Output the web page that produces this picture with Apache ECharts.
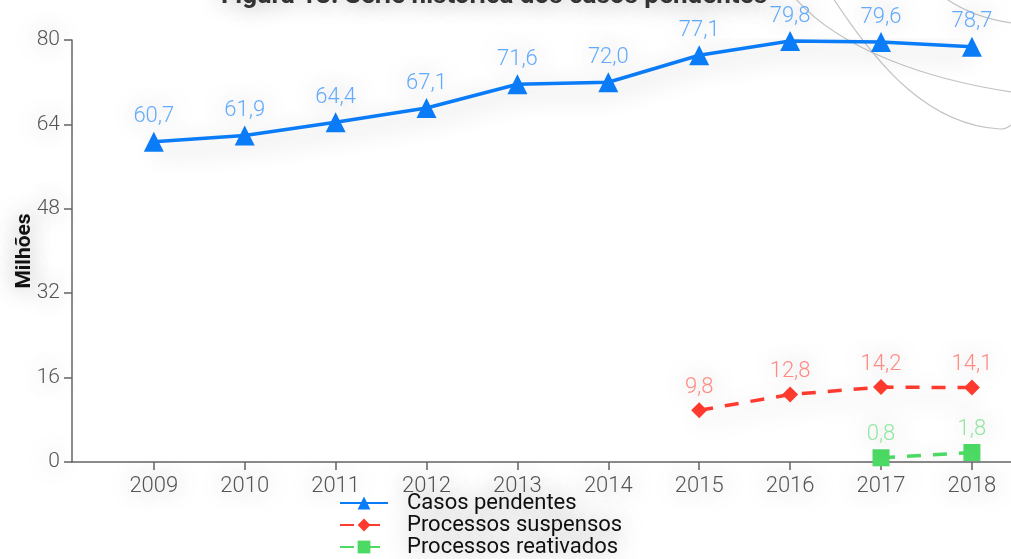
<!DOCTYPE html>
<html>
<head>
<meta charset="utf-8">
<script src="https://cdn.jsdelivr.net/npm/echarts@6/dist/echarts.min.js"></script>
<style>
  html, body { margin: 0; padding: 0; background: #fff; }
  #chart { width: 1011px; height: 559px; }
</style>
</head>
<body>
<div id="chart"></div>
<script>
// Série histórica dos casos pendentes (em milhões)
const years = [2009, 2010, 2011, 2012, 2013, 2014, 2015, 2016, 2017, 2018];
const casosPendentes = [60.7, 61.9, 64.4, 67.1, 71.6, 72.0, 77.1, 79.8, 79.6, 78.7];
const suspensosYears = [2015, 2016, 2017, 2018];
const processosSuspensos = [9.8, 12.8, 14.2, 14.1];
const reativadosYears = [2017, 2018];
const processosReativados = [0.8, 1.8];
const yTicks = [0, 16, 32, 48, 64, 80];
const yAxisTitle = 'Milhões';

const FONT = 'Roboto, "Helvetica Neue", Arial, sans-serif';
const haze = { textShadowColor: 'rgba(0,0,0,0.4)', textShadowBlur: 24 };
const lineHaze = { shadowColor: 'rgba(0,0,0,0.32)', shadowBlur: 26, shadowOffsetY: 8 };
const fmt = v => v.toFixed(1).replace('.', ',');
const pairs = (xs, ys) => xs.map((x, i) => [x, ys[i]]);

function labelStyle(color) {
  return Object.assign({
    show: true, position: 'top', distance: 4,
    color: color, fontFamily: FONT, fontWeight: 300, fontSize: 22,
    formatter: p => fmt(p.value[1])
  }, haze);
}

const chart = echarts.init(document.getElementById('chart'), null, { renderer: 'canvas' });
chart.setOption({
  animation: false,
  backgroundColor: '#fff',
  title: {
    text: 'Figura 13: Série histórica dos casos pendentes',
    left: 489, textAlign: 'center', top: -22,
    textStyle: Object.assign({ color: '#333', fontFamily: FONT, fontWeight: 'bold', fontSize: 26 }, haze)
  },
  grid: { left: 72, right: 0, top: 40, bottom: 97, containLabel: false },
  legend: {
    orient: 'vertical', left: 339, top: 492, height: 90, padding: 0, itemGap: 0,
    itemWidth: 48, itemHeight: 16,
    textStyle: Object.assign({ color: '#111', fontFamily: FONT, fontSize: 22, lineHeight: 18, padding: [0, 0, 0, 14] }, haze),
    data: ['Casos pendentes', 'Processos suspensos', 'Processos reativados']
  },
  xAxis: {
    type: 'value', min: 2008.1, max: 2018.43,
    splitLine: { show: false },
    axisLine: { show: true, lineStyle: { color: '#666', width: 1.5 } },
    axisTick: { show: true, length: 8, inside: false, customValues: years, lineStyle: { color: '#666', width: 1.5 } },
    axisLabel: Object.assign({
      customValues: years, color: '#555', fontFamily: FONT, fontWeight: 300, fontSize: 22, margin: 13,
      formatter: v => String(v)
    }, haze)
  },
  yAxis: {
    type: 'value', min: 0, max: 80, interval: 16,
    splitLine: { show: false },
    axisLine: { show: true, lineStyle: { color: '#666', width: 1.5 } },
    axisTick: { show: true, length: 8, lineStyle: { color: '#666', width: 1.5 } },
    axisLabel: Object.assign({
      color: '#555', fontFamily: FONT, fontWeight: 300, fontSize: 21, margin: 12,
      customValues: yTicks
    }, haze)
  },
  series: [
    {
      name: 'Casos pendentes', type: 'line',
      data: pairs(years, casosPendentes),
      symbol: 'triangle', symbolSize: 20,
      itemStyle: { color: '#0a7cf7' },
      lineStyle: Object.assign({ width: 3.5, color: '#0a7cf7' }, lineHaze),
      label: labelStyle('#62aafb')
    },
    {
      name: 'Processos suspensos', type: 'line',
      data: pairs(suspensosYears, processosSuspensos),
      symbol: 'diamond', symbolSize: 16,
      itemStyle: { color: '#ff3b30' },
      lineStyle: Object.assign({ width: 3.5, color: '#ff3b30', type: [14, 12] }, lineHaze),
      label: labelStyle('#ff8a84')
    },
    {
      name: 'Processos reativados', type: 'line',
      data: pairs(reativadosYears, processosReativados),
      symbol: 'rect', symbolSize: 17,
      itemStyle: { color: '#4cd964' },
      lineStyle: Object.assign({ width: 3.5, color: '#4cd964', type: [14, 12] }, lineHaze),
      label: labelStyle('#93e69f')
    }
  ],
  graphic: [
    // y-axis title, set close to the tick labels
    { type: 'text', silent: true, x: 25, y: 251, rotation: Math.PI / 2,
      style: Object.assign({ text: yAxisTitle, fill: '#111', font: 'bold 21px ' + FONT,
        align: 'center', verticalAlign: 'middle' }, haze) },
    { type: 'bezierCurve', silent: true, z: -1,
      shape: { x1: 833, y1: -2, cpx1: 880, cpy1: 70, cpx2: 930, cpy2: 125, x2: 1000, y2: 129 },
      style: { stroke: '#c4c4c4', lineWidth: 1.2, fill: null } },
    { type: 'bezierCurve', silent: true, z: -1,
      shape: { x1: 1000, y1: 129, cpx1: 1006, cpy1: 129, cpx2: 1009, cpy2: 127, x2: 1012, y2: 124 },
      style: { stroke: '#c4c4c4', lineWidth: 1.2, fill: null } },
    { type: 'bezierCurve', silent: true, z: -1,
      shape: { x1: 795, y1: -2, cpx1: 840, cpy1: 50, cpx2: 930, cpy2: 80, x2: 1012, y2: 92 },
      style: { stroke: '#c4c4c4', lineWidth: 1.2, fill: null } },
    { type: 'bezierCurve', silent: true, z: -1,
      shape: { x1: 945, y1: -2, cpx1: 965, cpy1: 12, cpx2: 990, cpy2: 20, x2: 1012, y2: 23 },
      style: { stroke: '#c4c4c4', lineWidth: 1.2, fill: null } }
  ]
});
</script>
</body>
</html>
